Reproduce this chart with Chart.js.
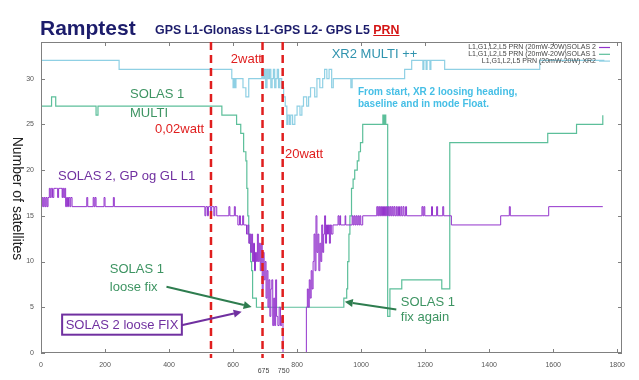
<!DOCTYPE html>
<html><head><meta charset="utf-8">
<script src="https://cdn.jsdelivr.net/npm/chart.js@4"></script>
<style>
html,body{margin:0;padding:0;background:#fff;}
#wrap{position:relative;width:639px;height:380px;overflow:hidden;}
#c{position:absolute;left:0;top:0;}
#title{position:absolute;left:40px;top:16px;font:bold 21px "Liberation Sans",Arial,sans-serif;color:#1c1c6b;white-space:nowrap;}
#sub{position:absolute;left:155px;top:23px;font:bold 12.4px "Liberation Sans",Arial,sans-serif;color:#1c1c6b;white-space:nowrap;}
#sub span{color:#d41515;text-decoration:underline;}
</style></head>
<body><div id="wrap"><canvas id="c" width="639" height="380"></canvas>
<div id="title">Ramptest</div><div id="sub">GPS L1-Glonass L1-GPS L2- GPS L5 <span>PRN</span></div></div>
<script>
// ---- data (time in s, number of satellites) ----
const xr2Time = [0,244,596,600,603,606,609,631,640,649,
 690,694,698,702,706,710,714,718,722,726,
 730,734,738,742,746,752,758,763,768,771,
 776,780,786,793,800,809,815,820,830,836,
 842,855,862,871,880,886,893,900,908,913,
 968,972,1136,1158,1193,1196,1203,1206,1215,1218,
 1261,1558,1760];
const xr2Sats = [32,31,30,29,30,29,30,29,28,30,
 31,30,31,29,31,30,31,29,30,31,
 29,30,31,29,30,29,28,27,25,26,
 25,26,25,26,27,26,27,28,27,28,
 29,28,30,29,30,31,30,31,29,30,
 29,30,31,32,31,32,31,32,31,32,
 31,32,32];

const solas1Time = [0,33,46,172,178,565,611,624,633,640,
 643,646,649,652,655,658,661,673,946,955,
 958,962,965,970,975,980,988,993,998,1005,
 1068,1071,1074,1077,1083,1090,1127,1252,1277,1583,
 1673,1755];
const solas1Sats = [27,28,27,26,27,26,25,24,22,21,
 18,15,13,12,10,9,6,5,6,7,
 10,13,15,18,19,20,21,22,23,25,
 26,25,26,25,4,7,8,7,23,24,
 25,26];

const solas2Time = [
 0,4,7,10,13,16,19,22,26,29,32,36,40,48,52,55,62,66,68,71,74,77,80,83,86,90,93,97,
 143,146,163,166,169,172,197,200,226,229,
 512,515,520,523,530,533,540,543,549,587,590,604,607,615,620,623,630,633,
 642,646,649,652,655,658,661,664,667,670,673,676,679,682,685,688,691,694,697,700,
 703,706,709,712,715,718,721,724,727,730,733,736,740,744,748,752,756,
 829,832,835,838,841,844,847,850,853,856,859,862,865,868,871,874,877,880,883,886,
 889,892,895,898,901,904,907,912,
 928,931,934,936,950,952,972,975,978,981,984,987,990,993,996,999,1005,
 1049,1052,1055,1058,1061,1064,1067,1070,1073,1076,1079,1082,1085,1088,1091,1094,1097,1100,1103,1106,
 1110,1113,1117,1120,1124,1127,1131,1134,1139,1142,
 1190,1193,1196,1199,1220,1223,1236,1239,1255,1258,1282,1436,1463,1466,1586,1755];
const solas2Sats = [
 16,17,16,17,16,17,16,17,18,17,18,17,18,18,17,18,18,17,18,17,18,16,17,16,17,16,17,16,
 17,16,17,16,17,16,17,16,17,16,
 15,16,15,16,15,16,15,16,15,16,15,16,15,14,15,14,15,14,
 13,14,12,13,11,13,10,12,9,11,10,13,10,12,9,12,7,11,8,10,
 6,9,5,8,4,7,8,3,6,3,8,4,3,5,3,4,0,
 5,7,5,8,6,9,7,10,13,9,15,11,13,9,12,10,14,11,13,15,
 12,14,13,14,12,14,13,14,
 15,14,15,14,15,14,15,14,15,14,15,14,15,14,15,14,15,
 16,15,16,15,16,15,16,15,16,15,16,15,16,15,16,15,16,15,16,15,
 16,15,16,15,16,15,16,15,16,15,
 16,15,16,15,16,15,16,15,16,15,14,15,16,15,16,16];

const seriesNames = ['L1,G1,L2,L5 PRN (20mW-20W)SOLAS 2','L1,G1,L2,L5 PRN (20mW-20W)SOLAS 1','L1,G1,L2,L5 PRN (20mW-20W) XR2'];
const xTicks = [0,200,400,600,800,1000,1200,1400,1600,1800];
const yTicks = [0,5,10,15,20,25,30];
const markerTimes = [531, 692, 755];
const markerLabels = ['', '675', '750'];

// ---- styles ----
const FONT = '"Liberation Sans", Arial, sans-serif';
const C_XR2 = '#8fd0e4', C_S1 = '#5cbf9a', C_S2 = '#9333cc';
const RED = '#e01e1e', GREEN = '#3d9462', PURPLE = '#7030a0';

const toPts = (t, s) => t.map((v, i) => ({x: v, y: s[i]}));

const notes = [
 {t:'2watt', x:593, y:32.1, c:RED},
 {t:'0,02watt', x:356, y:24.4, c:RED},
 {t:'20watt', x:762, y:21.7, c:RED},
 {t:'XR2 MULTI ++', x:908, y:32.6, c:'#2f93ae'},
 {t:'From start, XR 2 loosing heading,', x:990, y:28.5, c:'#46bfe6', f:'bold 10px '+FONT},
 {t:'baseline and in mode Float.', x:990, y:27.2, c:'#46bfe6', f:'bold 10px '+FONT},
 {t:'SOLAS 1', x:278, y:28.3, c:GREEN},
 {t:'MULTI', x:278, y:26.2, c:GREEN},
 {t:'SOLAS 2, GP og GL L1', x:53, y:19.3, c:PURPLE},
 {t:'SOLAS 1', x:215, y:9.1, c:GREEN},
 {t:'loose fix', x:215, y:7.2, c:GREEN},
 {t:'SOLAS 1', x:1124, y:5.56, c:GREEN},
 {t:'fix again', x:1124, y:3.9, c:GREEN}
];
const arrows = [
 {x1:392, y1:7.24, x2:658, y2:5.04, c:'#2e7d4f'},
 {x1:439, y1:3.04, x2:627, y2:4.5, c:PURPLE},
 {x1:1110, y1:4.76, x2:949, y2:5.59, c:'#2e7d4f'}
];
const box = {t:'SOLAS 2 loose FIX', x1:66, x2:440, y1:4.2, y2:2.0, c:PURPLE};

function arrow(ctx, x1, y1, x2, y2, c){
  ctx.strokeStyle = c; ctx.fillStyle = c; ctx.lineWidth = 2;
  const a = Math.atan2(y2-y1, x2-x1), L = 8, W = 4;
  const bx = x2 - L*Math.cos(a), by = y2 - L*Math.sin(a);
  ctx.beginPath(); ctx.moveTo(x1,y1); ctx.lineTo(bx,by); ctx.stroke();
  ctx.beginPath(); ctx.moveTo(x2,y2);
  ctx.lineTo(bx + W*Math.sin(a), by - W*Math.cos(a));
  ctx.lineTo(bx - W*Math.sin(a), by + W*Math.cos(a));
  ctx.closePath(); ctx.fill();
}

const overlay = {
  id: 'overlay',
  afterDatasetsDraw(chart){
    const {ctx, chartArea:a, scales:{x, y}} = chart;
    const X = v => x.getPixelForValue(v), Y = v => y.getPixelForValue(v);
    ctx.save();
    // frame
    ctx.strokeStyle = '#808080'; ctx.lineWidth = 1;
    ctx.strokeRect(Math.round(a.left)+0.5, Math.round(a.top)+0.5, Math.round(a.right-a.left)-1, Math.round(a.bottom-a.top)-1);
    ctx.beginPath();
    x.ticks.forEach(t => { const p = Math.round(X(t.value))+0.5;
      ctx.moveTo(p, a.bottom); ctx.lineTo(p, a.bottom-4); ctx.moveTo(p, a.top); ctx.lineTo(p, a.top+4); });
    y.ticks.forEach(t => { const p = Math.round(Y(t.value))+0.5;
      ctx.moveTo(a.left, p); ctx.lineTo(a.left+4, p); ctx.moveTo(a.right, p); ctx.lineTo(a.right-4, p); });
    ctx.stroke();
    // y title (reads top to bottom)
    ctx.save();
    ctx.translate(17, (a.top+a.bottom)/2 + 1);
    ctx.rotate(Math.PI/2);
    ctx.fillStyle = '#222'; ctx.font = '14px '+FONT; ctx.textAlign = 'center'; ctx.textBaseline = 'middle';
    ctx.fillText('Number of satellites', 0, 0);
    ctx.restore();
    // red markers
    ctx.strokeStyle = RED; ctx.lineWidth = 2.5; ctx.setLineDash([8,5]);
    markerTimes.forEach(v => { const p = X(v); ctx.beginPath(); ctx.moveTo(p, a.top); ctx.lineTo(p, a.bottom+5); ctx.stroke(); });
    ctx.setLineDash([]);
    ctx.fillStyle = '#444'; ctx.font = '7px '+FONT; ctx.textAlign = 'center'; ctx.textBaseline = 'middle';
    markerTimes.forEach((v, i) => { if (markerLabels[i]) ctx.fillText(markerLabels[i], X(v)+1, a.bottom+18); });
    // notes
    ctx.textAlign = 'left'; ctx.textBaseline = 'middle';
    notes.forEach(n => { ctx.fillStyle = n.c; ctx.font = n.f || ('13px '+FONT); ctx.fillText(n.t, X(n.x), Y(n.y)); });
    arrows.forEach(r => arrow(ctx, X(r.x1), Y(r.y1), X(r.x2), Y(r.y2), r.c));
    // box
    const bx1 = X(box.x1), bx2 = X(box.x2), by1 = Y(box.y1), by2 = Y(box.y2);
    ctx.fillStyle = '#fff'; ctx.fillRect(bx1, by1, bx2-bx1, by2-by1);
    ctx.strokeStyle = box.c; ctx.lineWidth = 2; ctx.strokeRect(bx1, by1, bx2-bx1, by2-by1);
    ctx.fillStyle = box.c; ctx.font = '13px '+FONT; ctx.textAlign = 'center';
    ctx.fillText(box.t, (bx1+bx2)/2, (by1+by2)/2+0.5);
    // legend
    const cols = [C_S2, C_S1, C_XR2];
    ctx.font = '7px '+FONT; ctx.textAlign = 'right';
    seriesNames.forEach((s, i) => {
      const yy = a.top + 5.5 + i*6.8;
      ctx.fillStyle = '#444'; ctx.fillText(s, a.right-26, yy);
      ctx.strokeStyle = cols[i]; ctx.lineWidth = 1.2; ctx.beginPath();
      ctx.moveTo(a.right-23, yy); ctx.lineTo(a.right-12, yy); ctx.stroke();
    });
    ctx.restore();
  }
};

new Chart(document.getElementById('c'), {
  type: 'line',
  data: {
    datasets: [
      {label: seriesNames[0], data: toPts(solas2Time, solas2Sats), borderColor: C_S2, borderWidth: 1, stepped: true, pointRadius: 0, order: 1},
      {label: seriesNames[1], data: toPts(solas1Time, solas1Sats), borderColor: C_S1, borderWidth: 1.2, stepped: true, pointRadius: 0, order: 2},
      {label: seriesNames[2], data: toPts(xr2Time, xr2Sats), borderColor: C_XR2, borderWidth: 1.2, stepped: true, pointRadius: 0, order: 3}
    ]
  },
  options: {
    responsive: false, animation: false, devicePixelRatio: 1,
    layout: {padding: {top: 42, right: 17, left: 0, bottom: 0}},
    plugins: {legend: {display: false}, tooltip: {enabled: false}},
    scales: {
      x: {type: 'linear', min: 0, max: 1815,
          afterBuildTicks: s => { s.ticks = xTicks.map(v => ({value: v})); },
          afterFit: s => { s.height = 27; },
          grid: {display: false, drawTicks: false}, border: {display: false},
          ticks: {padding: 8, maxRotation: 0, autoSkip: false, callback: v => String(v),
                  font: {size: 7, family: FONT}, color: '#555'}},
      y: {type: 'linear', min: 0, max: 34,
          afterBuildTicks: s => { s.ticks = yTicks.map(v => ({value: v})); },
          afterFit: s => { s.width = 41; },
          grid: {display: false, drawTicks: false}, border: {display: false},
          ticks: {padding: 7, callback: v => String(v), font: {size: 7, family: FONT}, color: '#555'}}
    }
  },
  plugins: [overlay]
});
</script>
</body></html>
